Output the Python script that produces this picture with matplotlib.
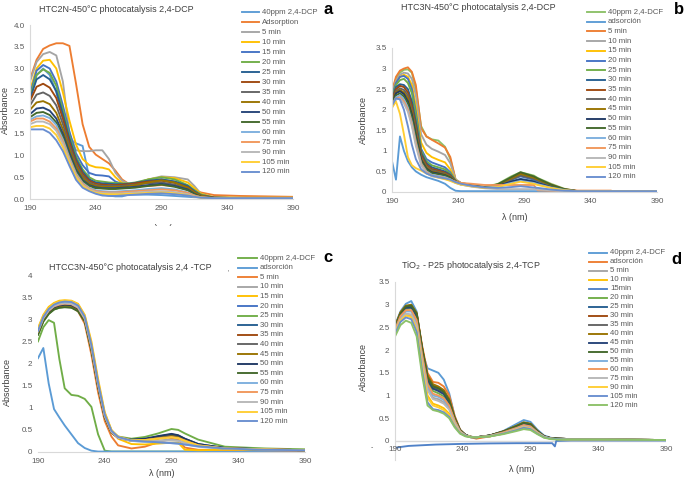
import numpy as np
import matplotlib
matplotlib.use("Agg")
import matplotlib.pyplot as plt
from matplotlib.lines import Line2D
from matplotlib.transforms import Bbox

plt.rcParams['font.family'] = ['Liberation Sans', 'DejaVu Sans']

W, H = 685, 478
nan = np.nan

# ---------------- panel a: HTC2N-450°C, 2,4-DCP ----------------
wl_a = [190, 195, 200, 205, 210, 215, 220, 225, 230, 235, 240, 245, 250, 255,
        260, 265, 270, 280, 290, 300, 310, 315, 320, 330, 350, 390]
labels_a = ['40ppm 2,4-DCP', 'Adsorption', '5 min', '10 min', '15 min', '20 min',
            '25 min', '30 min', '35 min', '40 min', '50 min', '55 min', '60 min',
            '75 min', '90 min', '105 min', '120 min']
colors_a = ['#5B9BD5', '#ED7D31', '#A5A5A5', '#FFC000', '#4472C4', '#70AD47',
            '#255E91', '#9E480E', '#636363', '#997300', '#264478', '#43682B',
            '#7CAFDD', '#F1975A', '#B7B7B7', '#FFCD33', '#698ED0']
abs_a = [
    [2.30, 2.85, 3.00, 2.85, 2.45, 1.85, 1.38, 1.28, 1.22, 0.50, 0.14, 0.10, 0.08, 0.06, 0.06, 0.10, 0.10, 0.10, 0.09, 0.07, 0.05, 0.04, 0.04, 0.03, 0.03, 0.03],
    [2.75, 3.20, 3.45, 3.53, 3.58, 3.58, 3.52, 2.65, 1.72, 1.20, 1.02, 0.92, 0.82, 0.65, 0.45, 0.35, 0.30, 0.30, 0.32, 0.30, 0.25, 0.20, 0.15, 0.09, 0.07, 0.05],
    [2.70, 3.15, 3.33, 3.38, 3.30, 2.70, 1.50, 1.12, 1.10, 1.10, 1.12, 1.12, 0.92, 0.60, 0.42, 0.35, 0.36, 0.45, 0.52, 0.50, 0.45, 0.30, 0.12, 0.04, 0.03, 0.03],
    [2.50, 3.00, 3.18, 3.20, 3.00, 2.45, 1.80, 1.25, 0.92, 0.78, 0.73, 0.72, 0.68, 0.50, 0.37, 0.33, 0.35, 0.45, 0.50, 0.48, 0.38, 0.25, 0.12, 0.04, 0.03, 0.03],
    [2.40, 2.95, 3.08, 3.00, 2.70, 2.15, 1.55, 1.05, 0.78, 0.60, 0.55, 0.54, 0.52, 0.40, 0.35, 0.33, 0.34, 0.40, 0.45, 0.40, 0.30, 0.20, 0.10, 0.03, 0.02, 0.02],
    [2.35, 2.85, 2.98, 2.90, 2.60, 2.05, 1.45, 0.98, 0.68, 0.50, 0.42, 0.40, 0.38, 0.37, 0.36, 0.36, 0.38, 0.45, 0.50, 0.45, 0.32, 0.20, 0.10, 0.03, 0.02, 0.02],
    [2.30, 2.75, 2.85, 2.75, 2.48, 1.95, 1.38, 0.92, 0.63, 0.45, 0.38, 0.36, 0.35, 0.34, 0.34, 0.35, 0.37, 0.42, 0.45, 0.40, 0.30, 0.18, 0.08, 0.03, 0.02, 0.02],
    [2.25, 2.58, 2.65, 2.56, 2.32, 1.85, 1.30, 0.86, 0.58, 0.42, 0.35, 0.33, 0.32, 0.32, 0.33, 0.34, 0.36, 0.40, 0.42, 0.37, 0.27, 0.16, 0.08, 0.03, 0.02, 0.02],
    [2.15, 2.40, 2.45, 2.37, 2.15, 1.72, 1.22, 0.80, 0.53, 0.38, 0.32, 0.30, 0.30, 0.30, 0.30, 0.32, 0.33, 0.36, 0.38, 0.33, 0.24, 0.14, 0.07, 0.02, 0.02, 0.02],
    [2.05, 2.22, 2.25, 2.18, 1.98, 1.60, 1.14, 0.75, 0.49, 0.35, 0.30, 0.28, 0.28, 0.28, 0.28, 0.30, 0.32, 0.38, 0.43, 0.38, 0.26, 0.15, 0.07, 0.02, 0.02, 0.02],
    [1.95, 2.08, 2.10, 2.03, 1.85, 1.50, 1.06, 0.68, 0.44, 0.32, 0.27, 0.25, 0.25, 0.25, 0.26, 0.27, 0.28, 0.32, 0.35, 0.30, 0.22, 0.12, 0.05, 0.02, 0.02, 0.02],
    [1.88, 1.98, 2.00, 1.93, 1.76, 1.43, 1.00, 0.64, 0.41, 0.30, 0.25, 0.24, 0.23, 0.23, 0.24, 0.25, 0.26, 0.30, 0.33, 0.28, 0.20, 0.11, 0.05, 0.02, 0.02, 0.02],
    [1.82, 1.90, 1.92, 1.86, 1.70, 1.37, 0.95, 0.59, 0.37, 0.26, 0.20, 0.18, 0.17, 0.17, 0.18, 0.19, 0.20, 0.23, 0.25, 0.22, 0.15, 0.08, 0.04, 0.02, 0.02, 0.02],
    [1.78, 1.85, 1.85, 1.78, 1.62, 1.32, 0.91, 0.56, 0.35, 0.24, 0.18, 0.16, 0.15, 0.15, 0.16, 0.17, 0.18, 0.20, 0.22, 0.20, 0.14, 0.08, 0.04, 0.02, 0.02, 0.02],
    [1.72, 1.78, 1.78, 1.72, 1.57, 1.27, 0.88, 0.53, 0.32, 0.22, 0.16, 0.14, 0.13, 0.13, 0.13, 0.14, 0.15, 0.17, 0.18, 0.16, 0.11, 0.06, 0.03, 0.02, 0.02, 0.02],
    [1.65, 1.68, 1.68, 1.62, 1.47, 1.19, 0.83, 0.50, 0.30, 0.20, 0.14, 0.12, 0.11, 0.11, 0.11, 0.12, 0.12, 0.14, 0.15, 0.13, 0.09, 0.05, 0.03, 0.02, 0.02, 0.02],
    [1.60, 1.60, 1.60, 1.52, 1.35, 1.10, 0.76, 0.44, 0.26, 0.18, 0.12, 0.08, 0.07, 0.07, 0.08, 0.09, 0.10, 0.12, 0.13, 0.11, 0.08, 0.05, 0.03, 0.02, 0.02, 0.02],
]

# ---------------- panel b: HTC3N-450°C, 2,4-DCP ----------------
wl_b = [190, 193, 196, 199, 202, 205, 208, 212, 216, 220, 225, 230, 234, 238,
        242, 250, 260, 270, 280, 287, 297, 300, 310, 320, 330, 355, 390]
labels_b = ['40ppm 2,4-DCF', 'adsorción', '5 min', '10 min', '15 min', '20 min',
            '25 min', '30 min', '35 min', '40 min', '45 min', '50 min', '55 min',
            '60 min', '75 min', '90 min', '105 min', '120 min']
colors_b = ['#8CC168', '#5B9BD5', '#ED7D31', '#A5A5A5', '#FFC000', '#4472C4',
            '#70AD47', '#255E91', '#9E480E', '#636363', '#997300', '#203864',
            '#43682B', '#7CAFDD', '#F1975A', '#B7B7B7', '#FFCD33', '#698ED0']
abs_b = [
    [2.45, 2.75, 2.90, 2.97, 2.98, 2.90, 2.50, 1.60, 1.35, 1.28, 1.25, 1.10, 0.80, 0.30, 0.22, 0.17, 0.12, 0.20, 0.38, 0.48, 0.40, 0.34, 0.20, 0.08, 0.02, 0.02, 0.02],
    [0.75, 0.30, 1.35, 1.00, 0.75, 0.60, 0.50, 0.42, 0.36, 0.32, 0.27, 0.20, 0.10, 0.03, 0.02, 0.02, 0.02, 0.02, 0.02, 0.02, 0.02, 0.02, 0.02, 0.02, 0.02, 0.02, 0.02],
    [2.45, 2.80, 2.95, 3.00, 3.03, 2.92, 2.60, 1.55, 1.35, 1.27, 1.18, 1.08, 0.85, 0.30, 0.22, 0.17, 0.12, 0.18, 0.34, 0.44, 0.36, 0.31, 0.18, 0.07, 0.03, 0.03, nan],
    [2.40, 2.70, 2.85, 2.90, 2.88, 2.75, 2.35, 1.40, 1.15, 1.05, 0.98, 0.90, 0.70, 0.30, 0.22, 0.17, 0.12, 0.17, 0.32, 0.42, 0.34, 0.29, 0.16, 0.06, 0.02, 0.02, 0.02],
    [2.35, 2.65, 2.80, 2.85, 2.80, 2.60, 2.10, 1.20, 0.95, 0.85, 0.78, 0.72, 0.55, 0.28, 0.21, 0.16, 0.12, 0.17, 0.30, 0.40, 0.32, 0.28, 0.16, 0.06, 0.02, 0.02, 0.02],
    [2.35, 2.65, 2.80, 2.82, 2.75, 2.50, 1.95, 1.05, 0.80, 0.72, 0.66, 0.60, 0.48, 0.27, 0.20, 0.16, 0.12, 0.16, 0.30, 0.38, 0.30, 0.26, 0.15, 0.06, 0.02, 0.02, 0.02],
    [2.30, 2.60, 2.72, 2.75, 2.65, 2.40, 1.85, 1.00, 0.75, 0.65, 0.60, 0.55, 0.45, 0.27, 0.20, 0.16, 0.12, 0.17, 0.32, 0.42, 0.34, 0.29, 0.16, 0.06, 0.02, 0.02, 0.02],
    [2.25, 2.55, 2.62, 2.60, 2.50, 2.20, 1.70, 0.95, 0.70, 0.60, 0.55, 0.50, 0.42, 0.26, 0.20, 0.15, 0.11, 0.15, 0.26, 0.32, 0.26, 0.22, 0.13, 0.05, 0.02, 0.02, 0.02],
    [2.25, 2.50, 2.58, 2.55, 2.42, 2.10, 1.60, 0.90, 0.66, 0.56, 0.52, 0.47, 0.40, 0.26, 0.20, 0.15, 0.11, 0.18, 0.33, 0.45, 0.36, 0.31, 0.17, 0.06, 0.02, 0.02, 0.02],
    [2.20, 2.45, 2.52, 2.48, 2.35, 2.02, 1.52, 0.85, 0.62, 0.53, 0.49, 0.45, 0.38, 0.25, 0.19, 0.15, 0.11, 0.17, 0.30, 0.40, 0.32, 0.28, 0.16, 0.06, 0.02, 0.02, 0.02],
    [2.20, 2.42, 2.48, 2.42, 2.28, 1.95, 1.45, 0.82, 0.60, 0.50, 0.47, 0.43, 0.37, 0.25, 0.19, 0.15, 0.11, 0.18, 0.33, 0.44, 0.35, 0.30, 0.17, 0.06, 0.02, 0.02, 0.02],
    [2.15, 2.40, 2.45, 2.38, 2.20, 1.88, 1.38, 0.78, 0.57, 0.48, 0.45, 0.41, 0.35, 0.24, 0.19, 0.15, 0.11, 0.15, 0.25, 0.30, 0.25, 0.21, 0.12, 0.05, 0.02, 0.02, 0.02],
    [2.15, 2.35, 2.40, 2.32, 2.15, 1.82, 1.32, 0.75, 0.55, 0.46, 0.43, 0.40, 0.34, 0.24, 0.19, 0.15, 0.11, 0.19, 0.36, 0.48, 0.38, 0.33, 0.18, 0.07, 0.02, 0.02, 0.02],
    [2.10, 2.30, 2.35, 2.25, 2.05, 1.70, 1.22, 0.70, 0.50, 0.42, 0.39, 0.36, 0.31, 0.23, 0.18, 0.14, 0.10, 0.14, 0.22, 0.27, 0.22, 0.19, 0.11, 0.05, 0.02, 0.02, 0.02],
    [2.10, 2.28, 2.30, 2.20, 2.00, 1.65, 1.18, 0.68, 0.48, 0.40, 0.37, 0.34, 0.30, 0.25, 0.22, 0.20, 0.17, 0.17, 0.17, 0.17, 0.17, 0.04, 0.03, 0.03, 0.03, 0.03, nan],
    [2.05, 2.25, 2.27, 2.15, 1.95, 1.60, 1.12, 0.65, 0.46, 0.38, 0.35, 0.32, 0.28, 0.22, 0.18, 0.13, 0.09, 0.07, 0.07, 0.07, 0.07, 0.06, 0.04, 0.02, 0.02, 0.02, 0.02],
    [2.05, 2.20, 1.90, 1.40, 0.85, 0.65, 0.58, 0.52, 0.45, 0.40, 0.35, 0.31, 0.27, 0.22, 0.18, 0.14, 0.10, 0.12, 0.20, 0.25, 0.20, 0.17, 0.10, 0.04, 0.02, 0.02, 0.02],
    [2.10, 2.28, 2.25, 2.00, 1.60, 1.15, 0.80, 0.55, 0.45, 0.40, 0.36, 0.33, 0.30, 0.24, 0.20, 0.15, 0.11, 0.10, 0.12, 0.14, 0.11, 0.10, 0.06, 0.03, 0.02, 0.02, 0.02],
]

# ---------------- panel c: HTCC3N-450°C, 2,4-TCP ----------------
wl_c = [190, 194, 198, 202, 206, 210, 215, 220, 225, 230, 235, 240, 245, 250,
        260, 270, 280, 290, 295, 300, 310, 330, 360, 390]
labels_c = ['40ppm 2,4-DCF', 'adsorción', '5 min', '10 min', '15 min', '20 min',
            '25 min', '30 min', '35 min', '40 min', '45 min', '50 min', '55 min',
            '60 min', '75 min', '90 min', '105 min', '120 min']
colors_c = ['#70AD47', '#5B9BD5', '#ED7D31', '#A5A5A5', '#FFC000', '#4472C4',
            '#70AD47', '#255E91', '#9E480E', '#636363', '#997300', '#203864',
            '#43682B', '#7CAFDD', '#F1975A', '#B7B7B7', '#FFCD33', '#698ED0']
abs_c = [
    [2.50, 2.82, 2.98, 2.92, 2.10, 1.44, 1.29, 1.27, 1.20, 1.02, 0.40, 0.03, 0.01, 0.01, 0.01, 0.01, 0.01, 0.01, 0.01, 0.01, 0.01, 0.01, 0.01, 0.01],
    [2.12, 2.35, 1.55, 0.97, 0.78, 0.60, 0.40, 0.20, 0.09, 0.03, 0.01, 0.01, 0.01, 0.01, 0.01, 0.01, 0.01, 0.01, 0.01, 0.01, 0.01, 0.01, 0.01, 0.01],
    [2.75, 3.05, 3.20, 3.28, 3.30, 3.30, 3.28, 3.18, 2.90, 2.20, 1.35, 0.70, 0.35, 0.15, 0.08, 0.12, 0.22, 0.30, 0.28, 0.10, 0.05, 0.05, 0.04, 0.03],
    [2.70, 3.00, 3.18, 3.28, 3.33, 3.35, 3.34, 3.26, 3.02, 2.38, 1.52, 0.82, 0.46, 0.32, 0.25, 0.24, 0.26, 0.28, 0.26, 0.22, 0.15, 0.08, 0.06, 0.04],
    [2.80, 3.10, 3.28, 3.37, 3.42, 3.43, 3.42, 3.35, 3.10, 2.50, 1.65, 0.90, 0.50, 0.30, 0.18, 0.17, 0.19, 0.21, 0.21, 0.05, 0.04, 0.05, 0.05, 0.05],
    [2.70, 3.00, 3.20, 3.30, 3.35, 3.37, 3.36, 3.28, 3.03, 2.40, 1.55, 0.83, 0.47, 0.34, 0.28, 0.29, 0.33, 0.37, 0.34, 0.27, 0.16, 0.09, 0.06, 0.04],
    [2.65, 2.95, 3.12, 3.22, 3.26, 3.28, 3.27, 3.20, 2.98, 2.35, 1.52, 0.83, 0.48, 0.35, 0.30, 0.34, 0.42, 0.52, 0.50, 0.42, 0.28, 0.12, 0.08, 0.06],
    [2.70, 3.00, 3.17, 3.27, 3.32, 3.33, 3.32, 3.24, 3.00, 2.36, 1.50, 0.80, 0.45, 0.33, 0.27, 0.29, 0.35, 0.40, 0.37, 0.30, 0.18, 0.09, 0.06, 0.04],
    [2.72, 3.02, 3.18, 3.28, 3.32, 3.34, 3.33, 3.25, 3.00, 2.35, 1.50, 0.80, 0.45, 0.32, 0.26, 0.27, 0.31, 0.35, 0.33, 0.27, 0.16, 0.08, 0.06, 0.04],
    [2.70, 3.00, 3.16, 3.26, 3.30, 3.32, 3.31, 3.23, 2.98, 2.33, 1.48, 0.79, 0.44, 0.32, 0.26, 0.27, 0.32, 0.37, 0.34, 0.27, 0.16, 0.08, 0.06, 0.04],
    [2.68, 2.98, 3.15, 3.25, 3.29, 3.31, 3.30, 3.22, 2.98, 2.34, 1.50, 0.80, 0.45, 0.33, 0.27, 0.28, 0.32, 0.36, 0.34, 0.27, 0.16, 0.08, 0.06, 0.04],
    [2.70, 3.00, 3.17, 3.27, 3.31, 3.33, 3.32, 3.24, 3.00, 2.36, 1.50, 0.80, 0.45, 0.33, 0.28, 0.30, 0.36, 0.41, 0.38, 0.30, 0.18, 0.09, 0.06, 0.04],
    [2.65, 2.95, 3.12, 3.22, 3.26, 3.27, 3.26, 3.18, 2.95, 2.30, 1.47, 0.78, 0.44, 0.32, 0.26, 0.27, 0.31, 0.35, 0.33, 0.26, 0.15, 0.08, 0.05, 0.04],
    [2.75, 3.05, 3.22, 3.32, 3.37, 3.38, 3.37, 3.29, 3.04, 2.40, 1.55, 0.84, 0.47, 0.33, 0.25, 0.23, 0.22, 0.20, 0.19, 0.17, 0.12, 0.07, 0.05, 0.04],
    [2.72, 3.02, 3.19, 3.29, 3.33, 3.35, 3.34, 3.26, 3.01, 2.37, 1.52, 0.81, 0.45, 0.32, 0.26, 0.27, 0.31, 0.34, 0.32, 0.26, 0.15, 0.08, 0.06, 0.04],
    [2.73, 3.03, 3.20, 3.30, 3.35, 3.36, 3.35, 3.27, 3.02, 2.38, 1.53, 0.82, 0.46, 0.32, 0.25, 0.24, 0.25, 0.26, 0.25, 0.21, 0.14, 0.08, 0.06, 0.04],
    [2.78, 3.08, 3.25, 3.35, 3.40, 3.42, 3.41, 3.33, 3.08, 2.45, 1.60, 0.88, 0.50, 0.35, 0.27, 0.27, 0.30, 0.33, 0.31, 0.25, 0.15, 0.08, 0.06, 0.04],
    [2.74, 3.05, 3.23, 3.33, 3.38, 3.40, 3.39, 3.31, 3.06, 2.42, 1.57, 0.85, 0.48, 0.34, 0.26, 0.24, 0.22, 0.20, 0.19, 0.17, 0.13, 0.08, 0.05, 0.04],
]

# ---------------- panel d: TiO2 P25, 2,4-TCP ----------------
wl_d = [190, 194, 198, 202, 206, 210, 214, 218, 222, 226, 230, 234, 238, 242,
        246, 250, 260, 270, 280, 285, 290, 295, 300, 305, 310, 320, 340, 390]
labels_d = ['40ppm 2,4-DCF', 'adsorción', '5 min', '10 min', '15min', '20 min',
            '25 min', '30 min', '35 min', '40 min', '45 min', '50 min', '55 min',
            '60 min', '75 min', '90 min', '105 min', '120 min']
colors_d = ['#5B9BD5', '#ED7D31', '#A5A5A5', '#FFC000', '#4F81C8', '#70AD47',
            '#255E91', '#9E480E', '#636363', '#997300', '#264478', '#43682B',
            '#7CAFDD', '#F1975A', '#B7B7B7', '#FFCD33', '#698ED0', '#8CC168']
# the 15min trace is the negative baseline, read on its own wavelengths
wl_d_15 = [190, 200, 220, 240, 260, 280, 300, 306, 308, 309, 320, 390]
abs_d_15 = [-0.15, -0.11, -0.08, -0.065, -0.055, -0.05, -0.05, -0.05, -0.12, 0.0, 0.01, 0.01]
abs_d = [
    [2.55, 2.85, 3.02, 3.08, 2.85, 1.97, 1.60, 1.55, 1.50, 1.35, 1.05, 0.55, 0.25, 0.14, 0.08, 0.06, 0.12, 0.22, 0.38, 0.46, 0.42, 0.25, 0.12, 0.07, 0.05, 0.04, 0.03, 0.02],
    [2.50, 2.80, 2.95, 2.97, 2.80, 2.10, 1.50, 1.30, 1.28, 1.20, 1.00, 0.55, 0.25, 0.13, 0.08, 0.05, 0.10, 0.20, 0.32, 0.40, 0.37, 0.22, 0.10, 0.06, 0.05, 0.04, 0.03, 0.02],
    [2.45, 2.70, 2.80, 2.78, 2.55, 1.80, 1.15, 0.95, 0.92, 0.85, 0.72, 0.42, 0.20, 0.12, 0.09, 0.08, 0.11, 0.18, 0.28, 0.34, 0.31, 0.19, 0.09, 0.05, 0.04, 0.03, 0.03, 0.02],
    [2.40, 2.65, 2.78, 2.75, 2.50, 1.70, 1.00, 0.82, 0.78, 0.72, 0.60, 0.36, 0.18, 0.11, 0.09, 0.08, 0.10, 0.17, 0.27, 0.33, 0.30, 0.18, 0.09, 0.05, 0.04, 0.03, 0.03, 0.02],
    None,
    [2.45, 2.78, 2.90, 2.92, 2.72, 1.95, 1.30, 1.10, 1.05, 0.98, 0.82, 0.48, 0.22, 0.12, 0.09, 0.08, 0.11, 0.19, 0.30, 0.37, 0.34, 0.20, 0.10, 0.06, 0.04, 0.03, 0.03, 0.02],
    [2.50, 2.80, 2.95, 2.97, 2.78, 2.02, 1.38, 1.17, 1.13, 1.06, 0.88, 0.50, 0.23, 0.13, 0.09, 0.08, 0.12, 0.20, 0.32, 0.39, 0.36, 0.21, 0.10, 0.06, 0.05, 0.04, 0.03, 0.02],
    [2.52, 2.82, 2.97, 2.98, 2.80, 2.05, 1.42, 1.22, 1.18, 1.10, 0.90, 0.51, 0.23, 0.13, 0.09, 0.08, 0.12, 0.21, 0.33, 0.40, 0.37, 0.22, 0.10, 0.06, 0.05, 0.04, 0.03, 0.02],
    [2.50, 2.80, 2.95, 2.96, 2.78, 2.02, 1.38, 1.18, 1.14, 1.07, 0.88, 0.50, 0.23, 0.13, 0.09, 0.08, 0.12, 0.20, 0.32, 0.39, 0.36, 0.21, 0.10, 0.06, 0.05, 0.04, 0.03, 0.02],
    [2.52, 2.83, 2.98, 3.00, 2.82, 2.06, 1.44, 1.25, 1.20, 1.12, 0.92, 0.52, 0.24, 0.13, 0.09, 0.08, 0.12, 0.21, 0.34, 0.41, 0.38, 0.22, 0.10, 0.06, 0.05, 0.04, 0.03, 0.02],
    [2.48, 2.78, 2.93, 2.94, 2.75, 2.00, 1.35, 1.15, 1.10, 1.03, 0.85, 0.48, 0.22, 0.13, 0.09, 0.08, 0.12, 0.20, 0.31, 0.38, 0.35, 0.21, 0.10, 0.06, 0.05, 0.04, 0.03, 0.02],
    [2.50, 2.80, 2.96, 2.98, 2.80, 2.04, 1.40, 1.20, 1.16, 1.08, 0.89, 0.50, 0.23, 0.13, 0.09, 0.08, 0.12, 0.21, 0.33, 0.40, 0.37, 0.22, 0.10, 0.06, 0.05, 0.04, 0.03, 0.02],
    [2.42, 2.72, 2.85, 2.85, 2.62, 1.85, 1.20, 1.00, 0.97, 0.90, 0.75, 0.44, 0.21, 0.12, 0.09, 0.08, 0.11, 0.18, 0.28, 0.34, 0.31, 0.19, 0.09, 0.05, 0.04, 0.03, 0.03, 0.02],
    [2.45, 2.75, 2.88, 2.88, 2.66, 1.90, 1.25, 1.04, 1.00, 0.94, 0.78, 0.45, 0.21, 0.12, 0.09, 0.08, 0.11, 0.19, 0.29, 0.35, 0.32, 0.19, 0.09, 0.05, 0.04, 0.03, 0.03, 0.02],
    [2.40, 2.68, 2.80, 2.78, 2.55, 1.78, 1.12, 0.92, 0.88, 0.82, 0.69, 0.40, 0.20, 0.12, 0.09, 0.08, 0.11, 0.17, 0.27, 0.32, 0.29, 0.18, 0.09, 0.05, 0.04, 0.03, 0.03, 0.02],
    [2.38, 2.65, 2.76, 2.72, 2.45, 1.65, 0.95, 0.78, 0.74, 0.68, 0.57, 0.34, 0.18, 0.11, 0.09, 0.08, 0.10, 0.16, 0.25, 0.30, 0.27, 0.17, 0.08, 0.05, 0.04, 0.03, 0.03, 0.02],
    [2.35, 2.62, 2.72, 2.68, 2.40, 1.55, 0.85, 0.70, 0.68, 0.63, 0.53, 0.32, 0.17, 0.11, 0.08, 0.08, 0.10, 0.16, 0.24, 0.29, 0.26, 0.16, 0.08, 0.05, 0.04, 0.03, 0.03, 0.02],
    [2.30, 2.55, 2.65, 2.60, 2.30, 1.45, 0.78, 0.68, 0.65, 0.60, 0.50, 0.30, 0.16, 0.10, 0.08, 0.08, 0.10, 0.15, 0.22, 0.26, 0.24, 0.15, 0.07, 0.04, 0.03, 0.03, 0.03, 0.02],
]

TICK_C = '#595959'
AXIS_C = '#D9D9D9'
LW = 1.35

fig = plt.figure(figsize=(W / 100, H / 100), dpi=100)


def px_axes(x0, x1, y_top, y_bot):
    return fig.add_axes([x0 / W, 1 - y_bot / H, (x1 - x0) / W, (y_bot - y_top) / H])


def style(ax, ymax, ystep, yfmt, left_line=True, ymin=0.0):
    ax.set_xlim(190, 390)
    ax.set_ylim(ymin, ymax)
    ax.set_xticks([190, 240, 290, 340, 390])
    yt = np.arange(0, ymax + 1e-9, ystep)
    ax.set_yticks(yt)
    ax.set_yticklabels([yfmt(v) for v in yt])
    for s in ('top', 'right'):
        ax.spines[s].set_visible(False)
    ax.spines['left'].set_color(AXIS_C)
    ax.spines['left'].set_visible(left_line)
    ax.spines['bottom'].set_color(AXIS_C)
    ax.tick_params(length=0, labelsize=5.8, colors=TICK_C, pad=4)
    ax.patch.set_alpha(0)


def legend(lines, labels, x0, x1, xt, y0, dy):
    for i, (ln, lab) in enumerate(zip(lines, labels)):
        y = 1 - (y0 + i * dy) / H
        fig.add_artist(Line2D([x0 / W, x1 / W], [y, y], transform=fig.transFigure,
                              color=ln.get_color(), lw=LW))
        fig.text(xt / W, y, lab, fontsize=5.6, color=TICK_C, va='center', ha='left')


def ftext(x, y, s, **kw):
    return fig.text(x / W, 1 - y / H, s, ha='center', va='center', **kw)


fmt1 = lambda v: f'{v:.1f}'
fmtg = lambda v: f'{v:g}'

# panel a
ax = px_axes(30, 293, 25, 199)
lines = [ax.plot(wl_a, y, color=c, lw=LW)[0] for y, c in zip(abs_a, colors_a)]
style(ax, 4.0, 0.5, fmt1)
legend(lines, labels_a, 242, 259, 262, 12, 10.0)
ftext(116, 10, 'HTC2N-450°C photocatalysis 2,4-DCP', fontsize=6.5, color='#404040')
ftext(5, 110, 'Absorbance', fontsize=6.5, rotation=90, color='#404040')
ftext(328, 9, 'a', fontsize=12, fontweight='bold')
t = ftext(160, 222, 'λ (nm)', fontsize=6.5, color='#404040')
t.set_clip_box(Bbox.from_extents(0, 0, W, H - 224))
t.set_clip_on(True)

# panel b
ax = px_axes(392, 657, 48, 192)
lines = [ax.plot(wl_b, y, color=c, lw=LW)[0] for y, c in zip(abs_b, colors_b)]
style(ax, 3.5, 0.5, fmtg)
legend(lines, labels_b, 587, 605, 608, 12, 9.7)
ftext(478, 7, 'HTC3N-450°C photocatalysis 2,4-DCP', fontsize=6.5, color='#404040')
ftext(363, 120, 'Absorbance', fontsize=6.5, rotation=90, color='#404040')
ftext(515, 217, 'λ (nm)', fontsize=6.5, color='#404040')
ftext(679, 9, 'b', fontsize=12, fontweight='bold')

# panel c
ax = px_axes(38, 305, 275, 452)
lines = [ax.plot(wl_c, y, color=c, lw=LW)[0] for y, c in zip(abs_c, colors_c)]
style(ax, 4.0, 0.5, fmtg, left_line=False)
legend(lines, labels_c, 238, 257, 260, 258, 9.6)
ftext(130, 267, 'HTCC3N-450°C photocatalysis 2,4 -TCP', fontsize=6.5, color='#404040')
ftext(7, 382, 'Absorbance', fontsize=6.5, rotation=90, color='#404040')
ftext(162, 473, 'λ (nm)', fontsize=6.5, color='#404040')
ftext(328, 258, 'c', fontsize=12, fontweight='bold')
ftext(228, 273, "'", fontsize=5, color=TICK_C)

# panel d
ax = px_axes(395, 666, 282, 460)
lines = []
for y, c in zip(abs_d, colors_d):
    if y is None:
        lines.append(ax.plot(wl_d_15, abs_d_15, color=c, lw=LW)[0])
    else:
        lines.append(ax.plot(wl_d, y, color=c, lw=LW)[0])
style(ax, 3.5, 0.5, fmtg, ymin=-0.42)
ax.spines['bottom'].set_visible(False)
ax.axhline(0, color=AXIS_C, lw=1.0, zorder=0)
ax.set_xticklabels([])
for xv in [190, 240, 290, 340, 390]:
    ax.annotate(str(xv), (xv, 0), xytext=(0, -4), textcoords='offset points',
                ha='center', va='top', fontsize=5.8, color=TICK_C)
legend(lines, labels_d, 589, 607, 610, 253, 8.96)
ftext(471, 266, 'TiO$_2$ - P25 photocatalysis 2,4-TCP', fontsize=6.5, color='#404040')
ftext(363, 367, 'Absorbance', fontsize=6.5, rotation=90, color='#404040')
ftext(522, 469, 'λ (nm)', fontsize=6.5, color='#404040')
ftext(676, 260, 'd', fontsize=12, fontweight='bold')
ftext(372, 448, '-', fontsize=5, color=TICK_C)

fig.savefig('out.png', dpi=100)
